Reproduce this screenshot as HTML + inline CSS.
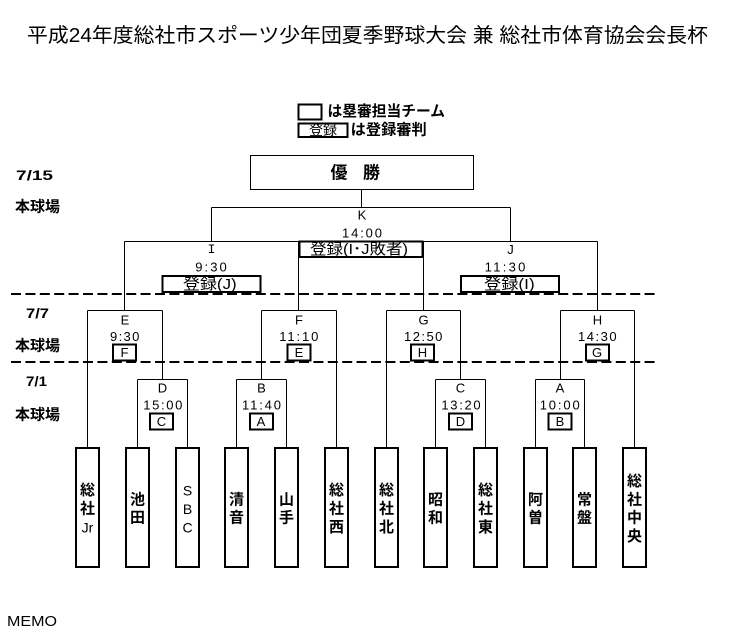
<!DOCTYPE html>
<html><head><meta charset="utf-8"><style>
html,body{margin:0;padding:0;background:#fff;}
svg{display:block;}
.cj{font-family:"Liberation Sans","Noto Sans CJK JP",sans-serif;}
.la{font-family:"Liberation Sans",sans-serif;}
text{fill:#000;}
</style></head><body>
<svg width="748" height="639" viewBox="0 0 748 639" xmlns="http://www.w3.org/2000/svg">
<!-- title -->
<text class="cj" x="27" y="36" font-size="20" dominant-baseline="central" textLength="681" lengthAdjust="spacingAndGlyphs">平成24年度総社市スポーツ少年団夏季野球大会 兼 総社市体育協会会長杯</text>

<!-- legend -->
<g fill="none" stroke="#000" stroke-width="2">
<rect x="298.5" y="104.5" width="23" height="15"/>
<rect x="298.5" y="123.5" width="49" height="13.5"/>
</g>
<text class="cj" x="327.5" y="111.5" font-size="15" font-weight="bold" dominant-baseline="central" textLength="117.5" lengthAdjust="spacingAndGlyphs">は塁審担当チーム</text>
<text class="cj" x="323" y="130" font-size="14" text-anchor="middle" dominant-baseline="central">登録</text>
<text class="cj" x="350.7" y="130" font-size="15" font-weight="bold" dominant-baseline="central" textLength="76" lengthAdjust="spacingAndGlyphs">は登録審判</text>

<!-- winner box -->
<rect x="250.5" y="155.5" width="223" height="34" fill="none" stroke="#000" stroke-width="1"/>
<text class="cj" x="339" y="173" font-size="17" font-weight="bold" text-anchor="middle" dominant-baseline="central">優</text>
<text class="cj" x="371.5" y="173" font-size="17" font-weight="bold" text-anchor="middle" dominant-baseline="central">勝</text>

<!-- left labels -->
<g class="la" font-size="14" font-weight="bold">
<text x="16" y="175" dominant-baseline="central" textLength="37" lengthAdjust="spacingAndGlyphs">7/15</text>
<text x="26" y="313" dominant-baseline="central" textLength="23" lengthAdjust="spacingAndGlyphs">7/7</text>
<text x="26" y="381" dominant-baseline="central" textLength="21" lengthAdjust="spacingAndGlyphs">7/1</text>
</g>
<g class="cj" font-size="15" font-weight="bold">
<text x="15" y="207" dominant-baseline="central" textLength="45" lengthAdjust="spacingAndGlyphs">本球場</text>
<text x="15" y="346" dominant-baseline="central" textLength="45" lengthAdjust="spacingAndGlyphs">本球場</text>
<text x="15" y="415" dominant-baseline="central" textLength="45" lengthAdjust="spacingAndGlyphs">本球場</text>
</g>

<!-- dashed lines -->
<g stroke="#000" stroke-width="2" stroke-dasharray="10 4.4">
<line x1="11" y1="294" x2="659" y2="294"/>
<line x1="11" y1="362" x2="659" y2="362"/>
</g>

<!-- bracket lines -->
<g stroke="#000" stroke-width="1" fill="none">
<path d="M361.5 189.5V207.5M211.5 207.5H510.5M211.5 207.5V241.5M510.5 207.5V241.5"/>
<path d="M124.5 241.5H298.5M423.5 241.5H597.5"/>
<path d="M124.5 241.5V310.5M298.5 241.5V310.5M423.5 241.5V310.5M597.5 241.5V310.5"/>
<path d="M87.5 310.5H162.5M261.5 310.5H336.5M386.5 310.5H460.5M560.5 310.5H634.5"/>
<path d="M87.5 310.5V447M162.5 310.5V379.5M137.5 379.5H187.5M137.5 379.5V447M187.5 379.5V447"/>
<path d="M261.5 310.5V379.5M236.5 379.5H286.5M236.5 379.5V447M286.5 379.5V447M336.5 310.5V447"/>
<path d="M386.5 310.5V447M460.5 310.5V379.5M435.5 379.5H485.5M435.5 379.5V447M485.5 379.5V447"/>
<path d="M560.5 310.5V379.5M535.5 379.5H584.5M535.5 379.5V447M584.5 379.5V447M634.5 310.5V447"/>
</g>

<!-- thick small boxes -->
<g fill="#fff" stroke="#000" stroke-width="2">
<rect x="299.5" y="241.5" width="123" height="15.5"/>
<rect x="162.5" y="276" width="98" height="16"/>
<rect x="461" y="276" width="98" height="16"/>
<rect x="113" y="344.5" width="23" height="16"/>
<rect x="287.5" y="344.5" width="23" height="16"/>
<rect x="411" y="344.5" width="23" height="16"/>
<rect x="586" y="344.5" width="23" height="16"/>
<rect x="150" y="413.5" width="23" height="16"/>
<rect x="250" y="413.5" width="23" height="16"/>
<rect x="449" y="413.5" width="23" height="16"/>
<rect x="548.5" y="413.5" width="23" height="16"/>
</g>

<!-- registration texts -->
<g class="cj" font-size="15">
<text x="310" y="249.5" dominant-baseline="central" textLength="98" lengthAdjust="spacingAndGlyphs">登録(I･J敗者)</text>
<text x="183" y="284.5" dominant-baseline="central" textLength="53.7" lengthAdjust="spacingAndGlyphs">登録(J)</text>
<text x="484" y="284.5" dominant-baseline="central" textLength="50.7" lengthAdjust="spacingAndGlyphs">登録(I)</text>
</g>

<!-- node letters & times -->
<g class="la" font-size="13" text-anchor="middle" dominant-baseline="central">
<text x="362" y="215">K</text>
<text x="362" y="233" textLength="40" lengthAdjust="spacing">14:00</text>
<text x="211.5" y="249.5" font-family="Liberation Mono, monospace">I</text>
<text x="211" y="267" textLength="31.5" lengthAdjust="spacing">9:30</text>
<text x="510.5" y="249.5">J</text>
<text x="505" y="267" textLength="40.7" lengthAdjust="spacing">11:30</text>

<text x="125" y="320">E</text>
<text x="124.7" y="336.5" textLength="29.3" lengthAdjust="spacing">9:30</text>
<text x="299" y="320">F</text>
<text x="298.8" y="336.5" textLength="39" lengthAdjust="spacing">11:10</text>
<text x="423.5" y="320">G</text>
<text x="423.2" y="336.5" textLength="38.3" lengthAdjust="spacing">12:50</text>
<text x="597.5" y="320">H</text>
<text x="597.3" y="336.5" textLength="38.7" lengthAdjust="spacing">14:30</text>

<text x="162.5" y="388">D</text>
<text x="162.8" y="405" textLength="39" lengthAdjust="spacing">15:00</text>
<text x="261.5" y="388">B</text>
<text x="261.5" y="405" textLength="39" lengthAdjust="spacing">11:40</text>
<text x="460.5" y="388">C</text>
<text x="461" y="405" textLength="39.3" lengthAdjust="spacing">13:20</text>
<text x="560" y="388">A</text>
<text x="559.7" y="405" textLength="40" lengthAdjust="spacing">10:00</text>

<text x="124.5" y="352.5">F</text>
<text x="299" y="352.5">E</text>
<text x="422.5" y="352.5">H</text>
<text x="597" y="352.5">G</text>
<text x="161.5" y="421.5">C</text>
<text x="261" y="421.5">A</text>
<text x="460.5" y="421.5">D</text>
<text x="560" y="421.5">B</text>
</g>

<!-- team boxes -->
<g fill="#fff" stroke="#000" stroke-width="2">
<rect x="76" y="448" width="23" height="119"/>
<rect x="126" y="448" width="23" height="119"/>
<rect x="176" y="448" width="23" height="119"/>
<rect x="225" y="448" width="23" height="119"/>
<rect x="275" y="448" width="23" height="119"/>
<rect x="325" y="448" width="23" height="119"/>
<rect x="375" y="448" width="23" height="119"/>
<rect x="424" y="448" width="23" height="119"/>
<rect x="474" y="448" width="23" height="119"/>
<rect x="524" y="448" width="23" height="119"/>
<rect x="573" y="448" width="23" height="119"/>
<rect x="623" y="448" width="23" height="119"/>
</g>

<g class="cj" font-size="15" font-weight="bold" text-anchor="middle" dominant-baseline="central">
<!-- 総社Jr -->
<text x="87.5" y="490.6">総</text>
<text x="87.5" y="509">社</text>
<text x="87.5" y="527.4" class="la" font-weight="normal" font-size="14">Jr</text>
<!-- 池田 -->
<text x="137.5" y="499.8">池</text>
<text x="137.5" y="518.2">田</text>
<!-- SBC -->
<text x="187.5" y="490.6" class="la" font-weight="normal" font-size="14">S</text>
<text x="187.5" y="509" class="la" font-weight="normal" font-size="14">B</text>
<text x="187.5" y="527.4" class="la" font-weight="normal" font-size="14">C</text>
<!-- 清音 -->
<text x="236.5" y="499.8">清</text>
<text x="236.5" y="518.2">音</text>
<!-- 山手 -->
<text x="286.5" y="499.8">山</text>
<text x="286.5" y="518.2">手</text>
<!-- 総社西 -->
<text x="336.5" y="490.6">総</text>
<text x="336.5" y="509">社</text>
<text x="336.5" y="527.4">西</text>
<!-- 総社北 -->
<text x="386.5" y="490.6">総</text>
<text x="386.5" y="509">社</text>
<text x="386.5" y="527.4">北</text>
<!-- 昭和 -->
<text x="435.5" y="499.8">昭</text>
<text x="435.5" y="518.2">和</text>
<!-- 総社東 -->
<text x="485.5" y="490.6">総</text>
<text x="485.5" y="509">社</text>
<text x="485.5" y="527.4">東</text>
<!-- 阿曽 -->
<text x="535.5" y="499.8">阿</text>
<text x="535.5" y="518.2">曽</text>
<!-- 常盤 -->
<text x="584.5" y="499.8">常</text>
<text x="584.5" y="518.2">盤</text>
<!-- 総社中央 -->
<text x="634.5" y="481.4">総</text>
<text x="634.5" y="499.8">社</text>
<text x="634.5" y="518.2">中</text>
<text x="634.5" y="536.6">央</text>
</g>

<!-- MEMO -->
<text class="la" x="7" y="621.3" font-size="15" dominant-baseline="central" textLength="50" lengthAdjust="spacingAndGlyphs">MEMO</text>
</svg>
</body></html>
